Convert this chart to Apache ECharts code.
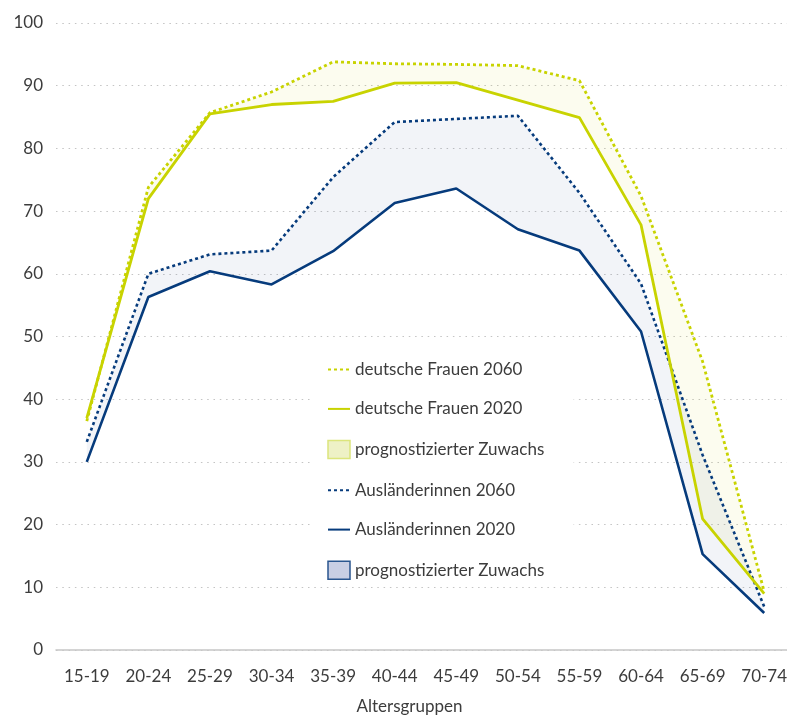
<!DOCTYPE html>
<html>
<head>
<meta charset="utf-8">
<script src="https://cdn.jsdelivr.net/npm/echarts@6/dist/echarts.min.js"></script>
<style>
  html, body { margin: 0; padding: 0; background: #fff; }
  #chart { width: 787px; height: 716px; }
</style>
</head>
<body>
<div id="chart"></div>
<script>
// Erwerbsquote nach Altersgruppen
const ageGroups = ['15-19', '20-24', '25-29', '30-34', '35-39', '40-44', '45-49', '50-54', '55-59', '60-64', '65-69', '70-74']
const deutsche2060 = [36.5, 73.8, 85.7, 89.0, 93.8, 93.5, 93.4, 93.2, 90.8, 72.4, 46.0, 9.3]
const deutsche2020 = [37.0, 72.0, 85.5, 87.0, 87.5, 90.4, 90.5, 87.7, 84.9, 67.8, 20.9, 9.0]
const auslaenderinnen2060 = [33.2, 60.0, 63.1, 63.7, 75.4, 84.2, 84.7, 85.2, 72.9, 58.4, 31.1, 6.9]
const auslaenderinnen2020 = [30.0, 56.3, 60.4, 58.3, 63.6, 71.3, 73.6, 67.1, 63.7, 50.8, 15.3, 5.9]

const YELLOW = '#c8d300'
const BLUE = '#063b7c'
const FONT = 'Lato'

const chart = echarts.init(document.getElementById('chart'), null, { renderer: 'canvas' })

// Band = unsichtbare Basis (2020) + gestapelte Differenz bis 2060
const diff = (top, base) => top.map((v, i) => +(v - base[i]).toFixed(2))

const hidden = { lineStyle: { opacity: 0 }, symbol: 'none', silent: true }
// Legendensymbol nur als Linie, ohne Kreis
const lineIcon = { itemStyle: { opacity: 0 } }

chart.setOption({
  backgroundColor: '#fff',
  animation: false,
  grid: { left: 56, right: -8, top: 23, bottom: 66, outerBoundsMode: 'none' },
  xAxis: {
    type: 'category',
    data: ageGroups,
    name: 'Altersgruppen',
    nameLocation: 'middle',
    nameGap: 48,
    nameTextStyle: { color: '#3c3c3c', fontSize: 17, fontFamily: FONT, padding: [0, 32, 0, 0] },
    axisLine: { lineStyle: { color: '#c6c6c6', width: 1.5 } },
    axisTick: { alignWithLabel: true, length: 6, lineStyle: { color: '#c6c6c6', width: 1.5 } },
    axisLabel: { color: '#3c3c3c', fontSize: 17, fontFamily: FONT, margin: 18 },
  },
  yAxis: {
    type: 'value',
    min: 0, max: 100, interval: 10,
    axisLine: { show: false },
    axisTick: { show: false },
    axisLabel: { color: '#3c3c3c', fontSize: 17, fontFamily: FONT, margin: 13 },
    splitLine: { lineStyle: { color: '#c4c4c4', width: 1.2, type: [1.5, 4.8] } },
  },
  legend: {
    orient: 'vertical',
    left: 310, top: 351,
    padding: [10, 25, 4, 17],
    backgroundColor: '#fff',
    itemWidth: 22, itemHeight: 18, itemGap: 22.4,
    textStyle: { color: '#3c3c3c', fontSize: 17, fontFamily: FONT },
    selectedMode: false,
    data: [
      { name: 'deutsche Frauen 2060', ...lineIcon },
      { name: 'deutsche Frauen 2020', ...lineIcon },
      { name: 'prognostizierter Zuwachs', icon: 'rect', itemStyle: { color: '#eef1c6', borderColor: '#dce57c', borderWidth: 1.5 } },
      { name: 'Ausländerinnen 2060', ...lineIcon },
      { name: 'Ausländerinnen 2020', ...lineIcon },
      { name: 'prognostizierter Zuwachs ', icon: 'rect', itemStyle: { color: '#c9cfe4', borderColor: '#2a568f', borderWidth: 1.5 } },
    ],
  },
  series: [
    { name: 'de-basis', type: 'line', stack: 'de', stackStrategy: 'all', data: deutsche2020, ...hidden },
    {
      name: 'prognostizierter Zuwachs', type: 'line', stack: 'de', stackStrategy: 'all',
      data: diff(deutsche2060, deutsche2020), ...hidden,
      color: YELLOW,
      areaStyle: { color: 'rgba(200,212,0,0.09)' },
    },
    { name: 'aus-basis', type: 'line', stack: 'aus', stackStrategy: 'all', data: auslaenderinnen2020, ...hidden },
    {
      name: 'prognostizierter Zuwachs ', type: 'line', stack: 'aus', stackStrategy: 'all',
      data: diff(auslaenderinnen2060, auslaenderinnen2020), ...hidden,
      color: BLUE,
      areaStyle: { color: 'rgba(10,58,125,0.08)' },
    },
    {
      name: 'Ausländerinnen 2060', type: 'line', data: auslaenderinnen2060, symbol: 'none', color: BLUE,
      lineStyle: { color: BLUE, width: 2.6, type: [3, 3] },
    },
    {
      name: 'Ausländerinnen 2020', type: 'line', data: auslaenderinnen2020, symbol: 'none', color: BLUE,
      lineStyle: { color: BLUE, width: 2.6 },
    },
    {
      name: 'deutsche Frauen 2060', type: 'line', data: deutsche2060, symbol: 'none', color: YELLOW,
      lineStyle: { color: YELLOW, width: 2.8, type: [3, 3] },
    },
    {
      name: 'deutsche Frauen 2020', type: 'line', data: deutsche2020, symbol: 'none', color: YELLOW,
      lineStyle: { color: YELLOW, width: 2.8 },
    },
  ],
})
</script>
</body>
</html>
